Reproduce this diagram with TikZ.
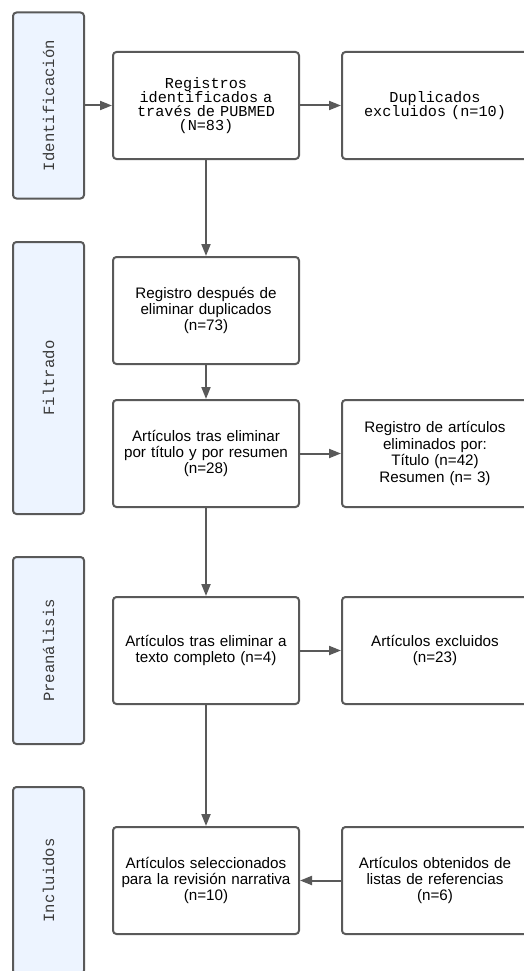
\documentclass[tikz,border=0pt]{standalone}
\usepackage{fontspec}
\setmainfont{Liberation Sans}
\setmonofont{Liberation Mono}
\usetikzlibrary{arrows.meta}
\definecolor{edgec}{HTML}{595959}
\definecolor{sidec}{HTML}{EDF4FF}
\definecolor{labc}{HTML}{3A3A3A}
\begin{document}
\begin{tikzpicture}[x=1pt,y=-1pt,
  box/.style={draw=edgec, line width=2pt, rounded corners=3.5pt, fill=white,
    minimum width=186pt, minimum height=107pt, align=center, inner sep=0pt,
    text width=182pt, font=\fontsize{15.2}{16.4}\selectfont},
  monobox/.style={box, font=\ttfamily\fontsize{15.2}{14.2}\selectfont},
  sidebox/.style={draw=edgec, line width=2pt, rounded corners=3.5pt, fill=sidec,
    rotate=90, minimum height=71pt, inner sep=0pt, text=labc,
    font=\ttfamily\fontsize{15.6}{16}\selectfont},
  arr/.style={draw=edgec, line width=2pt, -{Triangle[length=12pt,width=9pt]}}]
\useasboundingbox (0,0) rectangle (524,971);
\clip (0,0) rectangle (524,971);
% side boxes
\node[sidebox, minimum width=186pt] (s1) at (48.5,105.5) {Identificación};
\node[sidebox, minimum width=272pt] (s2) at (48.5,378) {Filtrado};
\node[sidebox, minimum width=187pt] (s3) at (48.5,650.5) {Preanálisis};
\node[sidebox, minimum width=187pt] (s4) at (48.5,880.5) {Incluidos};
% main column
\node[monobox] (b1) at (206,105.5) {Registros\\identificados a\\través de PUBMED\\(N=83)};
\node[box] (b2) at (206,310.5) {Registro después de\\eliminar duplicados\\(n=73)};
\node[box] (b3) at (206,453.5) {Artículos tras eliminar\\por título y por resumen\\(n=28)};
\node[box] (b4) at (206,650.5) {Artículos tras eliminar a\\texto completo (n=4)};
\node[box] (b5) at (206,880.5) {Artículos seleccionados\\para la revisión narrativa\\(n=10)};
% right column
\node[monobox] (r1) at (435,105.5) {Duplicados\\excluidos (n=10)};
\node[box] (r3) at (435,453.5) {Registro de artículos\\eliminados por:\\Título (n=42)\\Resumen (n= 3)};
\node[box] (r4) at (435,650.5) {Artículos excluidos\\(n=23)};
\node[box] (r5) at (435,880.5) {Artículos obtenidos de\\listas de referencias\\(n=6)};
% arrows
\draw[arr] (s1) -- (b1);
\draw[arr] (b1) -- (r1);
\draw[arr] (b1) -- (b2);
\draw[arr] (b2) -- (b3);
\draw[arr] (b3) -- (r3);
\draw[arr] (b3) -- (b4);
\draw[arr] (b4) -- (r4);
\draw[arr] (b4) -- (b5);
\draw[arr] (r5) -- (b5);
\end{tikzpicture}
\end{document}
